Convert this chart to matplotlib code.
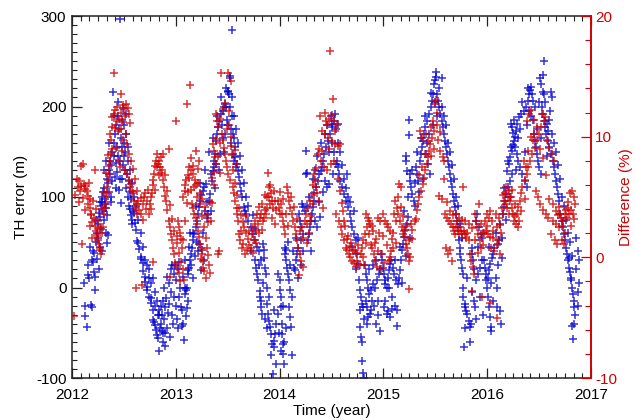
import matplotlib
matplotlib.use("Agg")
import matplotlib.pyplot as plt
from matplotlib.ticker import MultipleLocator, FormatStrFormatter

plt.rcParams['font.family'] = ['Liberation Sans', 'DejaVu Sans']
plt.rcParams['axes.unicode_minus'] = False

# TH error (m), blue crosses, left axis
th_year = [
    2012.125, 2012.14, 2012.15, 2012.155, 2012.16, 2012.18, 2012.19, 2012.20, 2012.205, 2012.21, 2012.215,
    2012.22, 2012.225, 2012.24, 2012.245, 2012.25, 2012.255, 2012.26, 2012.265, 2012.27, 2012.275, 2012.28,
    2012.285, 2012.29, 2012.295, 2012.30, 2012.305, 2012.31, 2012.315, 2012.32, 2012.325, 2012.33, 2012.335,
    2012.34, 2012.345, 2012.35, 2012.355, 2012.36, 2012.365, 2012.37, 2012.375, 2012.38, 2012.385, 2012.39,
    2012.395, 2012.40, 2012.405, 2012.41, 2012.415, 2012.42, 2012.425, 2012.43, 2012.435, 2012.44, 2012.445,
    2012.45, 2012.455, 2012.46, 2012.465, 2012.47, 2012.475, 2012.48, 2012.485, 2012.49, 2012.495, 2012.50,
    2012.505, 2012.51, 2012.515, 2012.52, 2012.525, 2012.53, 2012.535, 2012.54, 2012.545, 2012.55, 2012.555,
    2012.56, 2012.565, 2012.57, 2012.575, 2012.58, 2012.585, 2012.60, 2012.605, 2012.62, 2012.625, 2012.64,
    2012.645, 2012.66, 2012.665, 2012.68, 2012.685, 2012.70, 2012.705, 2012.72, 2012.725, 2012.74, 2012.745,
    2012.76, 2012.765, 2012.78, 2012.785, 2012.79, 2012.795, 2012.80, 2012.805, 2012.82, 2012.825, 2012.83,
    2012.835, 2012.84, 2012.845, 2012.86, 2012.865, 2012.87, 2012.875, 2012.88, 2012.885, 2012.89, 2012.895,
    2012.90, 2012.905, 2012.92, 2012.925, 2012.93, 2012.935, 2012.95, 2012.955, 2012.96, 2012.965, 2012.98,
    2012.985,
    2013.00, 2013.005, 2013.02, 2013.025, 2013.03, 2013.035, 2013.05, 2013.055, 2013.06, 2013.065, 2013.08,
    2013.085, 2013.09, 2013.095, 2013.10, 2013.105, 2013.11, 2013.115, 2013.12, 2013.125, 2013.13, 2013.14,
    2013.145, 2013.15, 2013.16, 2013.165, 2013.17, 2013.18, 2013.185, 2013.19, 2013.20, 2013.205, 2013.21,
    2013.22, 2013.225, 2013.23, 2013.24, 2013.245, 2013.25, 2013.26, 2013.27, 2013.275, 2013.28, 2013.29,
    2013.30, 2013.31, 2013.32, 2013.33, 2013.34, 2013.35, 2013.36, 2013.365, 2013.37, 2013.38, 2013.385,
    2013.39, 2013.40, 2013.41, 2013.42, 2013.43, 2013.44, 2013.445, 2013.45, 2013.455, 2013.46, 2013.47,
    2013.475, 2013.48, 2013.49, 2013.50, 2013.505, 2013.51, 2013.52, 2013.525, 2013.53, 2013.535, 2013.54,
    2013.545, 2013.55, 2013.555, 2013.56, 2013.565, 2013.57, 2013.575, 2013.58, 2013.59, 2013.60, 2013.61,
    2013.62, 2013.63, 2013.64, 2013.66, 2013.67, 2013.68, 2013.70, 2013.72, 2013.74, 2013.76, 2013.765,
    2013.77, 2013.78, 2013.79, 2013.80, 2013.81, 2013.815, 2013.82, 2013.825, 2013.83, 2013.84, 2013.845,
    2013.85, 2013.86, 2013.87, 2013.875, 2013.88, 2013.89, 2013.90, 2013.91, 2013.92, 2013.93, 2013.94,
    2013.945, 2013.95, 2013.96, 2013.97, 2013.98, 2013.985,
    2014.00, 2014.005, 2014.01, 2014.015, 2014.02, 2014.025, 2014.03, 2014.035, 2014.04, 2014.045, 2014.05,
    2014.055, 2014.06, 2014.065, 2014.07, 2014.08, 2014.09, 2014.095, 2014.10, 2014.105, 2014.11, 2014.12,
    2014.14, 2014.15, 2014.16, 2014.17, 2014.18, 2014.19, 2014.20, 2014.205, 2014.21, 2014.22, 2014.225,
    2014.23, 2014.24, 2014.25, 2014.255, 2014.26, 2014.27, 2014.28, 2014.29, 2014.30, 2014.31, 2014.32,
    2014.33, 2014.335, 2014.34, 2014.35, 2014.36, 2014.37, 2014.38, 2014.39, 2014.40, 2014.41, 2014.42,
    2014.43, 2014.44, 2014.45, 2014.46, 2014.47, 2014.48, 2014.49, 2014.495, 2014.50, 2014.505, 2014.51,
    2014.52, 2014.53, 2014.54, 2014.55, 2014.56, 2014.565, 2014.57, 2014.58, 2014.60, 2014.62, 2014.64,
    2014.645, 2014.66, 2014.68, 2014.69, 2014.70, 2014.72, 2014.74, 2014.75, 2014.76, 2014.765, 2014.77,
    2014.775, 2014.78, 2014.785, 2014.79, 2014.795, 2014.80, 2014.805, 2014.81, 2014.83, 2014.835, 2014.84,
    2014.845, 2014.85, 2014.855, 2014.86, 2014.87, 2014.88, 2014.89, 2014.90, 2014.92, 2014.93, 2014.94,
    2014.95, 2014.96, 2014.97,
    2014.98, 2014.99, 2015.00, 2015.005, 2015.01, 2015.015, 2015.02, 2015.03, 2015.035, 2015.04, 2015.045,
    2015.05, 2015.06, 2015.065, 2015.07, 2015.08, 2015.09, 2015.10, 2015.11, 2015.12, 2015.13, 2015.14,
    2015.15, 2015.16, 2015.17, 2015.18, 2015.19, 2015.20, 2015.21, 2015.215, 2015.22, 2015.225, 2015.23,
    2015.24, 2015.245, 2015.25, 2015.255, 2015.26, 2015.27, 2015.28, 2015.29, 2015.30, 2015.31, 2015.32,
    2015.33, 2015.35, 2015.36, 2015.37, 2015.38, 2015.39, 2015.40, 2015.41, 2015.42, 2015.43, 2015.44,
    2015.45, 2015.46, 2015.47, 2015.48, 2015.49, 2015.50, 2015.505, 2015.51, 2015.52, 2015.53, 2015.54,
    2015.55, 2015.56, 2015.565, 2015.57, 2015.58, 2015.59, 2015.60, 2015.61, 2015.62, 2015.63, 2015.64,
    2015.65, 2015.66, 2015.67, 2015.68, 2015.69, 2015.70, 2015.71, 2015.72, 2015.73, 2015.735, 2015.74,
    2015.75, 2015.76, 2015.765, 2015.77, 2015.78, 2015.785, 2015.79, 2015.80, 2015.81, 2015.82, 2015.83,
    2015.84, 2015.85, 2015.855, 2015.86, 2015.87, 2015.88, 2015.89, 2015.895, 2015.90, 2015.91, 2015.92,
    2015.93, 2015.94, 2015.95,
    2015.97, 2015.98, 2015.985, 2015.99, 2016.00, 2016.005, 2016.01, 2016.015, 2016.02, 2016.025, 2016.03,
    2016.035, 2016.04, 2016.05, 2016.06, 2016.07, 2016.08, 2016.09, 2016.095, 2016.10, 2016.11, 2016.12,
    2016.13, 2016.14, 2016.15, 2016.16, 2016.17, 2016.18, 2016.19, 2016.20, 2016.21, 2016.215, 2016.22,
    2016.225, 2016.23, 2016.235, 2016.24, 2016.245, 2016.25, 2016.26, 2016.265, 2016.27, 2016.28, 2016.285,
    2016.29, 2016.30, 2016.31, 2016.32, 2016.33, 2016.34, 2016.35, 2016.36, 2016.37, 2016.38, 2016.39,
    2016.395, 2016.40, 2016.41, 2016.42, 2016.43, 2016.44, 2016.45, 2016.46, 2016.47, 2016.48, 2016.49,
    2016.50, 2016.51, 2016.515, 2016.52, 2016.53, 2016.535, 2016.54, 2016.545, 2016.55, 2016.555, 2016.56,
    2016.57, 2016.58, 2016.585, 2016.59, 2016.60, 2016.605, 2016.61, 2016.615, 2016.62, 2016.63, 2016.64,
    2016.65, 2016.66, 2016.67, 2016.68, 2016.69, 2016.70, 2016.72, 2016.73, 2016.74, 2016.75, 2016.76,
    2016.77, 2016.78, 2016.785, 2016.79, 2016.80, 2016.805, 2016.81, 2016.815, 2016.82, 2016.825, 2016.83,
    2016.835, 2016.84, 2016.85, 2016.86, 2016.87, 2016.875, 2016.88,
    # second pass: the spread of each cloud
    2012.12, 2012.13, 2012.17, 2012.19, 2012.23, 2012.232, 2012.26, 2012.27, 2012.29, 2012.31, 2012.33,
    2012.34, 2012.36, 2012.38, 2012.40, 2012.42, 2012.44, 2012.46, 2012.48, 2012.50, 2012.52, 2012.54,
    2012.56, 2012.58, 2012.60, 2012.62, 2012.64, 2012.66, 2012.68, 2012.70, 2012.72, 2012.74, 2012.76,
    2012.78, 2012.80, 2012.82, 2012.84, 2012.86, 2012.88, 2012.90, 2012.92, 2012.94, 2012.97, 2012.99,
    2013.01, 2013.04, 2013.07, 2013.09, 2013.12, 2013.14, 2013.17, 2013.19, 2013.21, 2013.23, 2013.26,
    2013.28, 2013.30, 2013.32, 2013.34, 2013.36, 2013.38, 2013.40, 2013.42, 2013.44, 2013.46, 2013.48,
    2013.50, 2013.52, 2013.54, 2013.56, 2013.58, 2013.60, 2013.62, 2013.64, 2013.66, 2013.68, 2013.70,
    2013.72, 2013.74, 2013.76, 2013.78, 2013.80, 2013.82, 2013.84, 2013.86, 2013.88, 2013.90, 2013.92,
    2013.95, 2013.97, 2013.99,
    2014.01, 2014.03, 2014.06, 2014.08, 2014.10, 2014.12, 2014.13, 2014.16, 2014.18, 2014.21, 2014.23,
    2014.26, 2014.28, 2014.30, 2014.32, 2014.34, 2014.36, 2014.38, 2014.40, 2014.42, 2014.44, 2014.46,
    2014.48, 2014.50, 2014.52, 2014.54, 2014.56, 2014.58, 2014.60, 2014.62, 2014.64, 2014.66, 2014.68,
    2014.70, 2014.72, 2014.74, 2014.76, 2014.77, 2014.79, 2014.81, 2014.82, 2014.84, 2014.86, 2014.88,
    2014.90, 2014.91, 2014.93, 2014.95, 2014.97,
    2015.02, 2015.05, 2015.08, 2015.11, 2015.13, 2015.16, 2015.18, 2015.20, 2015.22, 2015.24, 2015.26,
    2015.28, 2015.30, 2015.32, 2015.34, 2015.36, 2015.38, 2015.40, 2015.42, 2015.44, 2015.46, 2015.48,
    2015.50, 2015.52, 2015.54, 2015.56, 2015.58, 2015.60, 2015.62, 2015.64, 2015.66, 2015.68, 2015.70,
    2015.72, 2015.74, 2015.76, 2015.77, 2015.79, 2015.81, 2015.83, 2015.85, 2015.87, 2015.89, 2015.91,
    2015.93, 2015.95, 2015.96,
    2016.02, 2016.04, 2016.06, 2016.08, 2016.10, 2016.12, 2016.14, 2016.16, 2016.18, 2016.20, 2016.22,
    2016.24, 2016.26, 2016.28, 2016.30, 2016.32, 2016.34, 2016.36, 2016.38, 2016.40, 2016.42, 2016.44,
    2016.46, 2016.48, 2016.50, 2016.52, 2016.54, 2016.56, 2016.58, 2016.60, 2016.62, 2016.64, 2016.66,
    2016.68, 2016.70, 2016.72, 2016.74, 2016.76, 2016.78, 2016.80, 2016.82, 2016.84, 2016.86, 2016.87,
    2016.88,
]
th_err = [
    -31, -44, 25, 14, 10, -19, -21, 40, 28, 17, 38,
    12, -3, 31, 60, 70, 55, 82, 45, 78, 65, 90,
    100, 95, 85, 105, 75, 110, 92, 98, 60, 88, 49,
    120, 58, 115, 130, 105, 140, 125, 95, 135, 150, 118,
    216, 145, 160, 122, 170, 138, 180, 155, 128, 190, 145,
    108, 175, 297, 140, 93, 165, 120, 155, 135, 198, 180,
    145, 130, 150, 192, 110, 125, 140, 100, 118, 90, 105,
    87, 98, 80, 70, 75, 85, 82, 71, 64, 51, 49,
    43, 32, 34, 27, 18, 6, 12, 1, -3, -10, 10,
    -12, -17, -25, -36, -38, -20, -41, -47, -53, -30, -56,
    -25, -70, -45, -20, -48, -30, -15, -60, -35, 0, -22,
    -50, -12, 12, -28, -18, 5, 20, -5, 25, -30, 15,
    -10,
    -20, 8, -45, 20, -10, 28, -21, -43, -25, 12, -58,
    -7, 0, -32, -3, -23, -1, 19, 15, 45, 22, 30,
    25, 37, 44, 52, 60, 59, 35, 67, 74, 50, 81,
    89, 48, 96, 19, 102, 41, 107, 30, 111, 85, 114,
    77, 81, 96, 103, 125, 118, 129, 133, 140, 147, 136,
    162, 170, 177, 184, 147, 192, 180, 195, 165, 199, 203,
    170, 199, 185, 217, 216, 214, 232, 234, 175, 160, 284,
    190, 147, 170, 140, 165, 144, 155, 133, 137, 129, 122,
    114, 107, 100, 89, 85, 81, 74, 67, 59, 30, 52,
    22, 15, 8, 40, -4, -11, -15, -22, -29, 48, 41,
    33, 22, 15, 0, -18, -29, -37, -44, -51, -62, -96,
    -59, -66, -51, -40, 15, -29,
    8, -3, -11, -22, -40, -51, -62, -73, -85, -60, 44,
    37, 30, 41, 22, 15, -22, 8, -33, -3, -44, -75,
    22, 19, 30, 37, 44, 81, 74, 52, 67, 92, 59,
    89, 85, 151, 125, 127, 52, 59, 67, 74, 81, 89,
    96, 104, 74, 111, 67, 118, 125, 78, 129, 133, 140,
    147, 118, 155, 111, 162, 114, 170, 190, 177, 181, 125,
    184, 192, 136, 140, 133, 181, 125, 118, 111, 103, 96,
    125, 89, 81, 74, 67, 59, 52, 37, 26, 8, -3,
    -44, -11, -55, -18, -81, -22, -94, -100, 15, -15, 8,
    -22, 0, -33, -7, -29, -3, -15, 4, 0, -40, 8,
    -30, 15, -48,
    37, 30, 22, -22, 15, 4, 8, 0, -29, 11, -26,
    19, 26, -33, 30, -24, 22, 15, -20, 8, -42, 4,
    11, 19, 30, 41, 48, 56, 63, 145, 140, 70, 129,
    78, 185, 168, 125, 118, 111, 103, 96, 90, 133, 125,
    118, 140, 147, 155, 162, 170, 177, 147, 184, 136, 192,
    125, 199, 206, 214, 225, 229, 238, 233, 214, 206, 199,
    192, 232, 184, 177, 170, 162, 155, 147, 140, 133, 125,
    118, 111, 103, 96, 89, 81, 74, 67, 52, 44, 37,
    30, 22, 15, -11, -66, -22, -18, -26, -29, -37, -44,
    -40, 44, 37, 30, -15, -22, 74, 8, 81, 15, 67,
    22, 59, 30,
    30, 22, 15, 8, 0, -11, 11, -22, 19, -33, 26,
    -44, -48, 33, 37, 44, 11, 0, -22, 48, 52, -26,
    -40, 33, 81, 89, 96, 103, 129, 111, 136, 118, 144,
    155, 181, 177, 151, 171, 158, 162, 166, 155, 173, 147,
    181, 140, 188, 133, 192, 125, 195, 118, 199, 111, 206,
    220, 214, 218, 221, 214, 206, 170, 162, 155, 147, 140,
    133, 231, 225, 125, 199, 216, 192, 214, 250, 184, 177,
    170, 181, 162, 173, 155, 195, 216, 147, 210, 140, 133,
    125, 118, 111, 103, 96, 81, 74, 67, 59, 52, 44,
    37, 30, 33, 22, 17, 11, 8, -42, 0, -57, -7,
    -22, -15, -30, 55, 40, -5, 5,
    # second pass
    5, -20, 45, 30, 50, 75, 20, 95, 40, 130, 140,
    80, 160, 100, 190, 110, 205, 120, 185, 160, 170, 155,
    130, 115, 100, 90, 75, 60, 45, 30, 25, 20, 5,
    10, -5, -15, -30, -40, -50, -65, -45, -55, -40, 25,
    -35, 0, -40, 30, -15, 60, 10, 90, 40, 115, 60,
    130, 95, 150, 85, 165, 110, 190, 130, 210, 150, 220,
    180, 200, 210, 190, 175, 160, 145, 130, 115, 100, 90,
    40, 80, 65, 45, 25, 30, 5, -35, -45, -10, -75,
    -25, -85, -50,
    -70, -20, -45, 50, 25, -10, 40, 55, 10, 25, 40,
    90, 100, 40, 120, 130, 145, 95, 160, 105, 170, 180,
    150, 160, 150, 175, 160, 150, 135, 120, 110, 100, 95,
    45, 85, 20, 55, -25, -60, -35, 25, -40, 20, -25,
    25, -20, 30, -15, 20,
    -15, 0, -10, 30, -25, 45, 5, 85, 35, 100, 55,
    130, 115, 150, 105, 165, 120, 190, 160, 170, 215, 180,
    205, 190, 220, 200, 190, 180, 160, 150, 135, 120, 100,
    90, 70, 55, 0, -45, 10, -60, -5, 20, -35, 45,
    -10, 55, -30,
    45, 5, -15, 60, 25, 70, 55, 110, 75, 140, 100,
    125, 185, 130, 165, 175, 205, 150, 180, 195, 190, 185,
    200, 175, 205, 165, 235, 205, 145, 185, 170, 160, 150,
    135, 120, 100, 90, 75, 60, 50, 35, -40, 20, -20,
    30,
]

# Difference (%), red crosses, right axis
diff_year = [
    2012.02, 2012.06, 2012.07, 2012.08, 2012.09, 2012.10, 2012.11, 2012.12, 2012.125, 2012.13, 2012.14,
    2012.15, 2012.16, 2012.17, 2012.175, 2012.18, 2012.185, 2012.19, 2012.20, 2012.22, 2012.225, 2012.23,
    2012.24, 2012.245, 2012.25, 2012.26, 2012.265, 2012.27, 2012.28, 2012.29, 2012.30, 2012.31, 2012.32,
    2012.325, 2012.33, 2012.335, 2012.34, 2012.35, 2012.355, 2012.36, 2012.37, 2012.375, 2012.38, 2012.385,
    2012.39, 2012.40, 2012.405, 2012.41, 2012.42, 2012.43, 2012.44, 2012.45, 2012.46, 2012.47, 2012.475,
    2012.48, 2012.49, 2012.495, 2012.50, 2012.51, 2012.52, 2012.525, 2012.53, 2012.54, 2012.545, 2012.55,
    2012.555, 2012.56, 2012.57, 2012.58, 2012.59, 2012.60, 2012.61, 2012.62, 2012.625, 2012.63, 2012.64,
    2012.65, 2012.66, 2012.67, 2012.68, 2012.69, 2012.70, 2012.72, 2012.74, 2012.75, 2012.76, 2012.77,
    2012.78, 2012.785, 2012.79, 2012.80, 2012.81, 2012.82, 2012.83, 2012.84, 2012.85, 2012.86, 2012.87,
    2012.88, 2012.89, 2012.90, 2012.91, 2012.92, 2012.93, 2012.935, 2012.94, 2012.945, 2012.95, 2012.96,
    2012.97, 2012.98, 2012.99,
    2013.00, 2013.01, 2013.015, 2013.02, 2013.03, 2013.035, 2013.04, 2013.045, 2013.05, 2013.06, 2013.065,
    2013.07, 2013.08, 2013.085, 2013.09, 2013.10, 2013.11, 2013.115, 2013.12, 2013.13, 2013.14, 2013.145,
    2013.15, 2013.16, 2013.165, 2013.17, 2013.175, 2013.18, 2013.185, 2013.19, 2013.195, 2013.20, 2013.205,
    2013.21, 2013.215, 2013.22, 2013.225, 2013.23, 2013.235, 2013.24, 2013.245, 2013.25, 2013.255, 2013.26,
    2013.265, 2013.27, 2013.28, 2013.29, 2013.30, 2013.305, 2013.31, 2013.32, 2013.33, 2013.34, 2013.35,
    2013.36, 2013.365, 2013.37, 2013.38, 2013.385, 2013.39, 2013.40, 2013.405, 2013.41, 2013.42, 2013.425,
    2013.43, 2013.44, 2013.445, 2013.45, 2013.46, 2013.47, 2013.48, 2013.49, 2013.50, 2013.505, 2013.51,
    2013.52, 2013.53, 2013.535, 2013.54, 2013.55, 2013.56, 2013.57, 2013.575, 2013.58, 2013.585, 2013.59,
    2013.60, 2013.61, 2013.62, 2013.63, 2013.64, 2013.65, 2013.66, 2013.67, 2013.68, 2013.69, 2013.70,
    2013.71, 2013.72, 2013.73, 2013.74, 2013.75, 2013.76, 2013.77, 2013.78, 2013.79, 2013.80, 2013.81,
    2013.82, 2013.83, 2013.84, 2013.85, 2013.86, 2013.87, 2013.88, 2013.89, 2013.895, 2013.90, 2013.91,
    2013.92, 2013.93, 2013.94, 2013.95, 2013.96, 2013.97,
    2013.98, 2013.99, 2014.00, 2014.01, 2014.02, 2014.03, 2014.04, 2014.05, 2014.07, 2014.08, 2014.09,
    2014.10, 2014.12, 2014.13, 2014.15, 2014.16, 2014.17, 2014.18, 2014.19, 2014.20, 2014.21, 2014.22,
    2014.23, 2014.24, 2014.25, 2014.26, 2014.27, 2014.28, 2014.29, 2014.30, 2014.31, 2014.32, 2014.33,
    2014.34, 2014.35, 2014.36, 2014.37, 2014.38, 2014.39, 2014.40, 2014.41, 2014.42, 2014.43, 2014.44,
    2014.45, 2014.46, 2014.47, 2014.48, 2014.49, 2014.495, 2014.50, 2014.51, 2014.52, 2014.525, 2014.53,
    2014.54, 2014.55, 2014.56, 2014.57, 2014.58, 2014.59, 2014.60, 2014.61, 2014.62, 2014.63, 2014.64,
    2014.65, 2014.66, 2014.67, 2014.68, 2014.69, 2014.70, 2014.72, 2014.73, 2014.74, 2014.75, 2014.76,
    2014.78, 2014.79, 2014.80, 2014.81, 2014.82, 2014.83, 2014.84, 2014.85, 2014.86, 2014.87, 2014.88,
    2014.89, 2014.90, 2014.91, 2014.92, 2014.93, 2014.94, 2014.95, 2014.96, 2014.97,
    2014.98, 2014.99, 2015.00, 2015.01, 2015.02, 2015.03, 2015.04, 2015.05, 2015.06, 2015.07, 2015.08,
    2015.09, 2015.10, 2015.11, 2015.12, 2015.13, 2015.14, 2015.15, 2015.16, 2015.17, 2015.18, 2015.19,
    2015.20, 2015.21, 2015.22, 2015.23, 2015.24, 2015.245, 2015.25, 2015.26, 2015.27, 2015.28, 2015.30,
    2015.32, 2015.33, 2015.34, 2015.35, 2015.36, 2015.37, 2015.38, 2015.39, 2015.40, 2015.41, 2015.42,
    2015.43, 2015.44, 2015.45, 2015.46, 2015.47, 2015.48, 2015.49, 2015.50, 2015.51, 2015.52, 2015.53,
    2015.54, 2015.55, 2015.56, 2015.57, 2015.58, 2015.59, 2015.60, 2015.61, 2015.62, 2015.63, 2015.64,
    2015.65, 2015.66, 2015.67, 2015.68, 2015.69, 2015.70, 2015.71, 2015.72, 2015.73, 2015.74, 2015.75,
    2015.76, 2015.77, 2015.78, 2015.79, 2015.80, 2015.81, 2015.82, 2015.83, 2015.84, 2015.85, 2015.86,
    2015.87, 2015.88, 2015.89, 2015.90, 2015.91, 2015.92, 2015.93, 2015.94, 2015.95, 2015.96,
    2015.97, 2015.98, 2015.99, 2016.00, 2016.01, 2016.02, 2016.025, 2016.03, 2016.04, 2016.05, 2016.06,
    2016.07, 2016.08, 2016.09, 2016.095, 2016.10, 2016.11, 2016.12, 2016.13, 2016.14, 2016.15, 2016.16,
    2016.17, 2016.18, 2016.19, 2016.20, 2016.21, 2016.22, 2016.23, 2016.24, 2016.25, 2016.26, 2016.27,
    2016.28, 2016.29, 2016.30, 2016.31, 2016.32, 2016.33, 2016.34, 2016.35, 2016.36, 2016.37, 2016.38,
    2016.385, 2016.39, 2016.40, 2016.41, 2016.42, 2016.43, 2016.44, 2016.45, 2016.46, 2016.47, 2016.48,
    2016.49, 2016.50, 2016.51, 2016.52, 2016.53, 2016.54, 2016.55, 2016.56, 2016.57, 2016.58, 2016.59,
    2016.60, 2016.61, 2016.62, 2016.63, 2016.64, 2016.65, 2016.66, 2016.67, 2016.68, 2016.69, 2016.70,
    2016.71, 2016.72, 2016.73, 2016.74, 2016.75, 2016.76, 2016.77, 2016.78, 2016.79, 2016.80, 2016.81,
    2016.82, 2016.83, 2016.84, 2016.85,
    # second pass: the spread of each cloud
    2012.03, 2012.05, 2012.07, 2012.09, 2012.11, 2012.13, 2012.15, 2012.17, 2012.19, 2012.21, 2012.23,
    2012.25, 2012.27, 2012.29, 2012.31, 2012.33, 2012.35, 2012.37, 2012.39, 2012.41, 2012.43, 2012.45,
    2012.47, 2012.49, 2012.51, 2012.53, 2012.55, 2012.57, 2012.59, 2012.61, 2012.63, 2012.66, 2012.68,
    2012.71, 2012.73, 2012.76, 2012.78, 2012.80, 2012.82, 2012.84, 2012.86, 2012.88, 2012.90, 2012.92,
    2012.94, 2012.96, 2012.98,
    2013.01, 2013.03, 2013.05, 2013.07, 2013.09, 2013.11, 2013.13, 2013.15, 2013.17, 2013.19, 2013.21,
    2013.23, 2013.25, 2013.27, 2013.29, 2013.31, 2013.33, 2013.35, 2013.37, 2013.39, 2013.41, 2013.43,
    2013.45, 2013.47, 2013.49, 2013.51, 2013.53, 2013.55, 2013.57, 2013.59, 2013.61, 2013.63, 2013.65,
    2013.68, 2013.71, 2013.74, 2013.77, 2013.80, 2013.83, 2013.86, 2013.88, 2013.91, 2013.93, 2013.96,
    2014.00, 2014.03, 2014.06, 2014.08, 2014.11, 2014.14, 2014.17, 2014.20, 2014.23, 2014.26, 2014.29,
    2014.32, 2014.35, 2014.38, 2014.41, 2014.44, 2014.46, 2014.48, 2014.50, 2014.53, 2014.56, 2014.58,
    2014.60, 2014.62, 2014.65, 2014.68, 2014.71, 2014.74, 2014.77, 2014.80, 2014.83, 2014.86, 2014.89,
    2014.92, 2014.95,
    2015.00, 2015.03, 2015.06, 2015.09, 2015.12, 2015.14, 2015.17, 2015.19, 2015.22, 2015.25, 2015.28,
    2015.31, 2015.34, 2015.37, 2015.40, 2015.43, 2015.46, 2015.49, 2015.52, 2015.55, 2015.58, 2015.61,
    2015.64, 2015.67, 2015.70, 2015.73, 2015.76, 2015.79, 2015.82, 2015.85, 2015.88, 2015.91, 2015.94,
    2015.96,
    2016.00, 2016.03, 2016.06, 2016.09, 2016.12, 2016.15, 2016.18, 2016.21, 2016.24, 2016.27, 2016.30,
    2016.33, 2016.36, 2016.39, 2016.42, 2016.45, 2016.48, 2016.51, 2016.54, 2016.57, 2016.60, 2016.63,
    2016.66, 2016.69, 2016.72, 2016.75, 2016.78, 2016.81, 2016.84,
]
diff_pct = [
    -4.9, 5.8, 6.3, 5.5, 7.6, 1.1, 7.7, 6.1, 5.9, 5.7, 5.5,
    5.1, 6.2, 4.8, 4.1, 3.6, 3.5, 2.9, 4.7, 7.2, 2.6, 2.2,
    1.9, 1.8, 1.4, 1.1, 0.8, 0.6, 0.3, 2.0, 2.5, 3.6, 4.1,
    4.4, 5.0, 5.3, 5.8, 6.4, 6.9, 7.6, 8.0, 8.6, 9.7, 10.8,
    11.6, 11.9, 15.3, 12.2, 9.1, 11.3, 10.5, 8.0, 7.5, 12.0, 13.5,
    8.8, 12.6, 9.7, 12.3, 7.2, 12.7, 10.2, 6.9, 12.4, 6.4, 11.9,
    5.8, 11.1, 6.1, 5.5, 5.3, 4.7, 4.1, -2.5, 3.6, 4.4, 4.7,
    3.9, 3.6, -2.3, 4.4, 5.0, 5.3, 4.7, 3.6, 4.4, 5.0, 5.3,
    -0.4, 6.4, 6.9, 7.6, 8.0, 7.5, 7.7, 8.0, 7.5, 8.3, 7.2,
    6.4, 5.8, 5.1, 4.7, 3.9, 3.0, 9.0, 2.5, -1.6, 1.9, 1.4,
    0.8, 0.3, -0.5,
    11.3, 1.2, -0.8, 3.0, 2.5, -1.3, -2.0, 2.0, 1.5, 0.8, 5.0,
    -1.0, -1.9, 5.5, 6.0, 6.4, 12.7, 6.8, 5.4, 6.6, 14.3, 8.2,
    5.6, 4.4, 6.9, 4.1, 5.8, 3.6, 6.4, 3.3, 8.8, 2.8, 5.0,
    2.2, 6.2, 1.7, 8.0, 1.1, 5.3, 0.8, -0.1, 0.3, 4.8, -0.3,
    -0.9, -1.1, 4.2, -1.7, 0.8, 3.5, 0.2, -0.6, -1.3, 3.0, 4.5,
    9.4, 6.0, 8.8, 8.3, 11.9, 7.7, 11.3, 0.3, 10.8, 0.5, 9.5,
    7.0, 15.3, 10.2, 9.7, 9.1, 8.6, 8.0, 7.5, 15.3, 6.9, 11.0,
    6.4, 14.6, 10.0, 8.5, 5.8, 5.3, 8.9, 4.7, 7.7, 4.1, 3.6,
    3.0, 1.9, 1.4, 2.2, 0.8, 1.1, 2.5, 0.3, 2.0, 0.6, 1.5,
    2.2, 0.8, 1.9, 2.5, 1.4, 3.0, 2.2, 3.6, 2.8, 4.2, 3.3,
    3.6, 4.4, 3.0, 3.3, 3.9, 3.6, 5.0, 7.0, 5.8, 5.0, 4.4,
    5.3, 4.7, 4.1, 5.5, 4.7, 3.9,
    4.7, 4.1, 3.6, 4.4, 3.6, 3.0, 2.5, 1.9, 5.8, 5.3, 4.7,
    4.1, 3.6, 3.0, 2.5, 1.9, 1.4, 0.8, -1.5, 0.3, -0.3, 2.5,
    -0.8, 3.0, 3.6, 1.2, 4.1, 2.0, 4.7, 3.4, 5.2, 4.4, 6.9,
    6.4, 5.8, 5.3, 8.6, 4.7, 11.7, 8.0, 10.5, 4.1, 7.5, 10.2,
    11.3, 7.2, 9.9, 11.5, 17.1, 7.7, 9.6, 13.1, 11.3, 8.0, 9.4,
    3.6, 11.0, 9.2, 3.0, 9.4, 2.5, 1.9, 3.8, 1.4, 2.6, 0.8,
    0.6, 1.8, 0.3, 0.0, 1.2, -0.3, -0.5, 0.6, -0.8, -0.3, 1.0,
    0.3, 0.8, 1.4, -0.6, 1.9, 3.6, 2.5, 3.3, 3.0, 2.8, 1.0,
    0.8, 2.2, 0.3, -0.3, 1.5, -0.8, 0.5, 2.0, 3.0,
    -1.0, 0.3, 3.6, -0.5, 3.0, 1.0, 2.5, -0.3, 2.2, 0.5, 1.5,
    0.8, 3.6, 4.7, 1.2, 4.1, 3.6, 6.1, 3.0, 5.8, 2.5, 1.9,
    2.2, 1.7, 1.1, 0.8, 0.3, -2.6, -0.3, 0.0, 2.8, 1.5, 3.0,
    3.9, 4.4, 5.0, 10.5, 5.5, 9.9, 6.1, 6.6, 7.2, 10.2, 7.7,
    8.3, 8.8, 9.4, 10.8, 9.9, 11.3, 10.5, 12.7, 13.0, 11.0, 9.7,
    5.1, 8.8, 4.8, 8.3, 8.0, 3.6, 0.8, 3.3, 0.3, 3.0, 0.6,
    2.8, -0.3, 2.5, 2.2, 1.9, 2.5, 3.0, 2.2, 1.9, 2.5, 2.2,
    1.9, 5.8, 2.2, 1.9, 1.6, 2.0, 1.4, 0.3, -0.3, -2.8, -0.8,
    -1.4, 3.6, 3.0, 2.5, 1.9, 4.4, 1.4, 0.8, -3.3, 2.0,
    2.0, 3.0, 2.2, 3.6, 1.9, 3.3, -3.8, 1.7, 0.8, 3.0, 2.2,
    0.5, 3.6, -5.0, 2.5, 1.4, 3.3, 0.3, 2.0, 4.1, 3.6, 4.7,
    5.3, 4.4, 4.1, 5.0, 5.5, 4.7, 5.0, 4.1, 3.6, 3.0, 4.4,
    2.8, 3.6, 2.5, 3.0, 4.7, 5.3, 5.8, 8.0, 6.4, 7.5, 6.9,
    11.3, 7.5, 11.9, 8.0, 12.2, 8.6, 9.7, 10.2, 9.1, 5.5, 9.7,
    5.0, 10.2, 4.4, 10.8, 11.9, 3.9, 11.3, 11.6, 3.6, 9.7, 3.3,
    9.1, 1.9, 8.6, 3.0, 8.0, 1.4, 2.8, 1.1, 3.5, 2.5, 3.6,
    3.3, 1.4, 3.0, 1.1, 3.6, 3.9, 3.3, 4.1, 3.6, 5.3, 3.9,
    5.5, 3.6, 5.0, 4.4,
    # second pass
    5.2, 6.5, 4.6, 5.9, 4.9, 3.9, 4.4, 2.6, 1.6, 3.3, 4.0,
    3.0, 2.4, 4.0, 5.4, 7.0, 8.5, 10.2, 9.0, 10.7, 12.5, 11.5,
    10.6, 11.2, 11.7, 9.4, 8.6, 8.0, 7.3, 6.5, 5.5, 4.9, 3.1,
    4.0, 5.6, 4.0, 6.0, 5.6, 8.6, 6.8, 7.0, 8.6, 6.8, 5.5,
    4.3, 3.2, 2.2,
    1.8, 0.4, -0.4, 1.4, 3.0, 4.5, 7.5, 7.2, 7.6, 6.0, 7.3,
    4.4, 3.4, 2.5, 1.6, 2.9, 4.6, 6.6, 7.1, 9.8, 8.4, 11.5,
    12.3, 12.8, 10.6, 12.1, 9.2, 7.2, 6.2, 5.2, 4.1, 3.5, 2.9,
    3.4, 1.0, 0.4, 1.2, 2.0, 2.3, 5.2, 4.1, 6.0, 3.3, 2.8,
    5.4, 4.8, 3.6, 2.6, 5.0, 4.2, 3.2, 2.2, 1.6, 2.8, 3.0,
    6.0, 7.4, 9.0, 8.8, 12.0, 11.0, 9.0, 11.8, 10.5, 6.5, 5.5,
    4.5, 3.0, 1.5, 0.9, 0.5, 0.4, -0.6, 0.0, 1.2, 1.9, 2.6,
    1.2, 3.3,
    1.8, 2.8, 0.0, 2.0, 3.0, 5.0, 4.2, 3.4, 2.6, 1.4, 2.3,
    3.2, 6.8, 7.5, 8.6, 9.6, 8.4, 9.0, 12.0, 10.4, 6.5, 4.6,
    3.8, 3.5, 3.6, 3.3, 3.1, 3.0, 2.8, 2.4, 1.4, 0.4, 2.8,
    1.0,
    2.6, 3.8, 1.6, 1.0, 2.7, 5.2, 5.8, 3.6, 5.6, 3.4, 4.2,
    3.8, 4.8, 8.8, 10.0, 11.4, 10.8, 9.0, 8.2, 6.8, 4.8, 4.4,
    3.8, 4.2, 2.6, 2.0, 4.6, 2.6, 3.2,
]

blue = '#0000d0'
red = '#d00000'

fig = plt.figure(figsize=(6.35, 4.2), dpi=100)
ax = fig.add_axes([72 / 635, 42 / 420, 519 / 635, 362 / 420])
ax2 = ax.twinx()

ax.plot(th_year, th_err, ls='none', marker='+', ms=6, mew=1.1, color=blue, alpha=0.8)
ax2.plot(diff_year, diff_pct, ls='none', marker='+', ms=6, mew=1.1, color=red, alpha=0.8)

ax.set_xlim(2012, 2017)
ax.set_ylim(-100, 300)
ax2.set_ylim(-10, 20)

ax.xaxis.set_major_locator(MultipleLocator(1))
ax.xaxis.set_minor_locator(MultipleLocator(1 / 12))
ax.xaxis.set_major_formatter(FormatStrFormatter('%d'))
ax.yaxis.set_major_locator(MultipleLocator(100))
ax.yaxis.set_minor_locator(MultipleLocator(10))
ax2.yaxis.set_major_locator(MultipleLocator(10))
ax2.yaxis.set_minor_locator(MultipleLocator(2))

ax.tick_params(which='both', direction='in', top=True, right=False, labelsize=11, color='#222222')
ax.tick_params(which='major', length=7.5, width=0.9)
ax.tick_params(which='minor', length=3.6, width=0.8)
ax.tick_params(axis='x', pad=7)
ax.tick_params(axis='y', pad=4)
ax2.tick_params(which='both', direction='in', colors=red, labelsize=11, pad=3)
ax2.tick_params(which='major', length=7.5, width=0.9)
ax2.tick_params(which='minor', length=4.5, width=0.8)

for s in ['left', 'top', 'bottom']:
    ax.spines[s].set_color('#222222')
    ax.spines[s].set_linewidth(1.1)
    ax2.spines[s].set_visible(False)
ax.spines['right'].set_visible(False)
ax2.spines['right'].set_color(red)
ax2.spines['right'].set_linewidth(1.4)

ax.set_xlabel('Time (year)', fontsize=11, labelpad=2)
ax.set_ylabel('TH error (m)', fontsize=11, labelpad=6)
ax2.set_ylabel('Difference (%)', fontsize=11, color=red, labelpad=1)

fig.savefig('out.png', dpi=100)
